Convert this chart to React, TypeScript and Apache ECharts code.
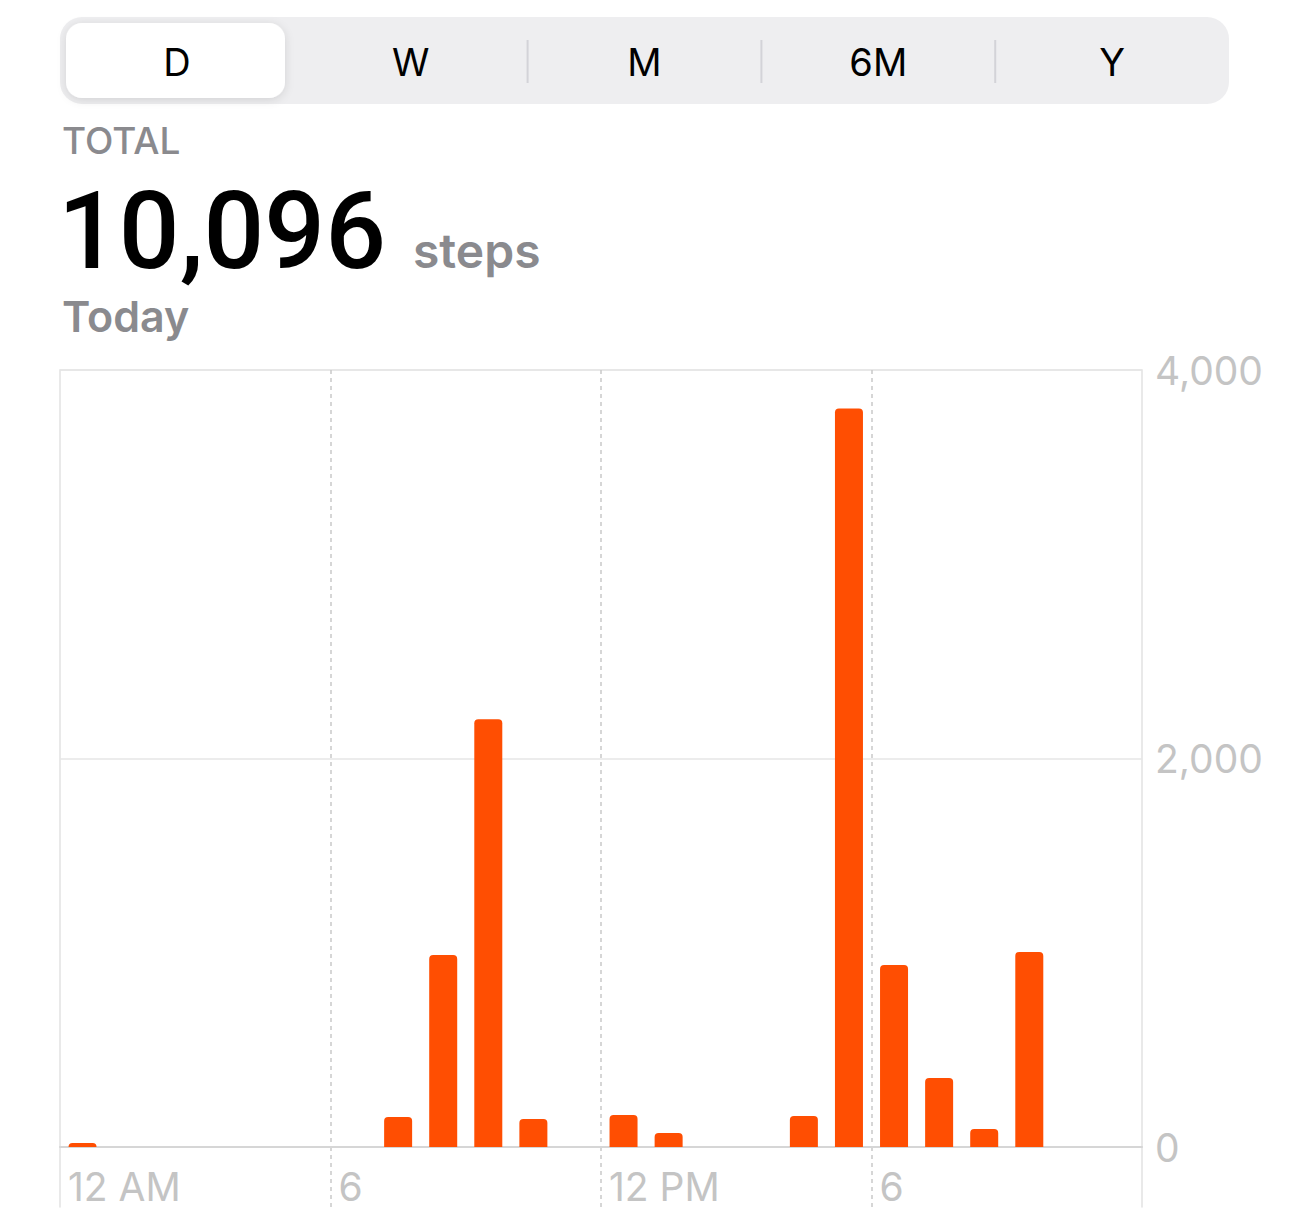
import { useEffect, useRef } from "react";
import * as echarts from "echarts";

const hours = ["0","1","2","3","4","5","6","7","8","9","10","11","12","13","14","15","16","17","18","19","20","21","22","23"];
const steps = [20, null, null, null, null, null, null, 154, 988, 2202, 144, null, 165, 72, null, null, 160, 3802, 937, 355, 93, 1004, null, null];
const xTickLabels = ["12 AM", "6", "12 PM", "6", ""];
const segments = ["D", "W", "M", "6M", "Y"];
const totalLabel = "TOTAL";
const totalValue = "10,096";
const unitLabel = "steps";
const periodLabel = "Today";

const FONT = "Roboto, 'Noto Sans', sans-serif";
const UI = "Inter, Roboto, sans-serif";

export default function App() {
  const ref = useRef<HTMLDivElement>(null);
  useEffect(() => {
    document.body.style.margin = "0";
    const chart = echarts.init(ref.current!, null, { renderer: "svg" });

    const segX = 60, segW = 1169, segY = 17, segH = 87;
    const cellW = segW / segments.length;
    const graphic: any[] = [
      { type: "rect", shape: { x: segX, y: segY, width: segW, height: segH, r: 22 }, style: { fill: "#eeeef0" } },
      {
        type: "rect",
        shape: { x: 66, y: 23, width: 219, height: 75, r: 16 },
        style: { fill: "#ffffff", shadowBlur: 10, shadowColor: "rgba(0,0,0,0.12)", shadowOffsetY: 2 },
      },
    ];
    for (let i = 2; i < segments.length; i++) {
      graphic.push({
        type: "line",
        shape: { x1: segX + cellW * i, y1: 40, x2: segX + cellW * i, y2: 83 },
        style: { stroke: "#d3d3d8", lineWidth: 2 },
      });
    }
    segments.forEach((s, i) => {
      graphic.push({
        type: "text",
        x: segX + cellW * (i + 0.5),
        y: 62,
        style: { text: s, fontSize: 38, fontFamily: UI, fontWeight: 400, fill: "#000", align: "center", verticalAlign: "middle", lineHeight: 40 },
      });
    });
    graphic.push(
      { type: "text", x: 62, y: 140, style: { text: totalLabel, fontSize: 37, fontFamily: UI, fontWeight: 500, fill: "#8a8a8e", align: "left", verticalAlign: "middle", lineHeight: 36 } },
      { type: "text", x: 58, y: 231, style: { text: totalValue, fontSize: 107, fontFamily: FONT, fontWeight: 500, fill: "#000", align: "left", verticalAlign: "middle", lineHeight: 80 } },
      { type: "text", x: 413, y: 250, style: { text: unitLabel, fontSize: 48, fontFamily: UI, fontWeight: 600, fill: "#8a8a8e", align: "left", verticalAlign: "middle", lineHeight: 44 } },
      { type: "text", x: 62, y: 316, style: { text: periodLabel, fontSize: 43, fontFamily: UI, fontWeight: 600, fill: "#8a8a8e", align: "left", verticalAlign: "middle", lineHeight: 38 } }
    );

    chart.setOption({
      animation: false,
      backgroundColor: "#ffffff",
      graphic,
      grid: [
        { left: 60, right: 148, top: 370, height: 777, show: true, borderColor: "#e2e2e2", borderWidth: 1.5, backgroundColor: "transparent" },
        { left: 60, right: 148, top: 1147, height: 60, show: false },
      ],
      xAxis: [
        {
          type: "category", gridIndex: 0, data: hours, position: "top",
          axisLine: { show: false }, axisTick: { show: false }, axisLabel: { show: false }, splitLine: { show: false },
        },
        {
          type: "value", gridIndex: 0, min: 0, max: 24, interval: 6, position: "bottom",
          axisLine: { show: true, lineStyle: { color: "#d6d6d6", width: 2 } },
          axisTick: { show: false },
          splitLine: { show: true, showMinLine: false, showMaxLine: false, lineStyle: { color: "#c9c9c9", type: [4, 4], width: 1.5 } },
          axisLabel: {
            show: true, formatter: (v: number) => xTickLabels[Math.round(v / 6)] ?? "",
            align: "left", padding: [0, 0, 0, 8], margin: 20,
            color: "#c4c4c4", fontSize: 39, fontFamily: UI, fontWeight: 400,
          },
        },
        {
          type: "value", gridIndex: 1, min: 0, max: 24, interval: 6,
          axisLine: { show: false }, axisTick: { show: false }, axisLabel: { show: false },
          splitLine: { show: true, showMinLine: false, showMaxLine: false, lineStyle: { color: "#c9c9c9", type: [4, 4], width: 1.5 } },
        },
      ],
      yAxis: [
        {
          type: "value", gridIndex: 0, min: 0, max: 4000, interval: 2000, position: "right",
          axisLine: { show: false }, axisTick: { show: false },
          splitLine: { show: true, lineStyle: { color: "#e6e6e6", width: 1.5 } },
          axisLabel: {
            formatter: (v: number) => v.toLocaleString("en-US"),
            margin: 13, color: "#c4c4c4", fontSize: 39, fontFamily: UI, fontWeight: 400,
          },
        },
        {
          type: "value", gridIndex: 1, position: "left",
          axisLine: { show: true, lineStyle: { color: "#e2e2e2", width: 1.5 } },
          axisTick: { show: false }, axisLabel: { show: false }, splitLine: { show: false },
        },
        {
          type: "value", gridIndex: 1, position: "right",
          axisLine: { show: true, lineStyle: { color: "#e2e2e2", width: 1.5 } },
          axisTick: { show: false }, axisLabel: { show: false }, splitLine: { show: false },
        },
      ],
      series: [
        {
          type: "bar", xAxisIndex: 0, yAxisIndex: 0, data: steps, barWidth: 28,
          itemStyle: { color: "#ff4e02", borderRadius: [4, 4, 0, 0] },
        },
      ],
    });
    return () => chart.dispose();
  }, []);
  return <div ref={ref} style={{ width: 1290, height: 1229, position: "absolute", left: 0, top: 0 }} />;
}
